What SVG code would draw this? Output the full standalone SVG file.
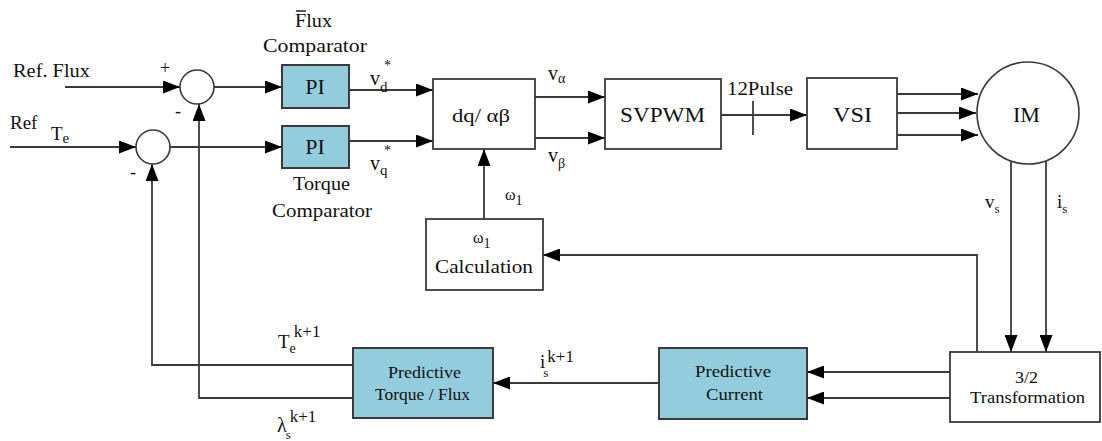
<svg xmlns="http://www.w3.org/2000/svg" width="1102" height="441" viewBox="0 0 1102 441" font-family="'Liberation Serif', 'DejaVu Serif', serif">
<style>
text{font-family:'Liberation Serif','DejaVu Serif',serif;fill:#111;}
.box{fill:#fff;stroke:#3a3a3a;stroke-width:1.8;}
.fbox{fill:#93cddd;stroke:#3a3a3a;stroke-width:2;}
.sum{fill:#fff;stroke:#3a3a3a;stroke-width:1.6;}
.ln{fill:none;stroke:#3a3a3a;stroke-width:1.8;}
.ar{marker-end:url(#ah);}
</style>
<defs>
<marker id="ah" markerUnits="userSpaceOnUse" markerWidth="17" markerHeight="13" refX="17" refY="6.5" orient="auto">
<path d="M0,0 L17,6.5 L0,13 z" fill="#000"/>
</marker>
</defs>

<g id="connectors">
<path class="ln ar" d="M65,87 H180"/>
<path class="ln ar" d="M214,87 H282"/>
<path class="ln ar" d="M10,147 H136"/>
<path class="ln ar" d="M170,147 H282"/>
<path class="ln ar" d="M349,90 H433"/>
<path class="ln ar" d="M349,141 H433"/>
<path class="ln ar" d="M535,97 H605"/>
<path class="ln ar" d="M535,138 H605"/>
<path class="ln ar" d="M721,115 H807"/>
<path class="ln" d="M753,101 V135"/>
<path class="ln ar" d="M897,94 H978"/>
<path class="ln ar" d="M897,113 H976"/>
<path class="ln ar" d="M897,135 H978"/>
<path class="ln ar" d="M1011,161 V352"/>
<path class="ln ar" d="M1046,161 V352"/>
<path class="ln ar" d="M977,352 V255 H543"/>
<path class="ln ar" d="M484,219 V149"/>
<path class="ln ar" d="M950,372 H807"/>
<path class="ln ar" d="M950,398 H807"/>
<path class="ln ar" d="M659,383 H493"/>
<path class="ln ar" d="M353,365 H152 V164"/>
<path class="ln ar" d="M353,398 H199 V104"/>
</g>

<g id="labels">
<text font-size="18" x="13" y="77" textLength="77" lengthAdjust="spacingAndGlyphs">Ref. Flux</text>
<text x="160" y="74" font-size="18">+</text>
<text x="175" y="117" font-size="18">-</text>
<text x="130" y="178" font-size="18">-</text>
<text x="10" y="129" font-size="19">Ref</text>
<text x="51" y="140" font-size="19">T<tspan font-size="15" dy="3">e</tspan></text>
<text x="370" y="85" font-size="20">v<tspan font-size="15" dy="7">d</tspan></text>
<text x="384" y="70" font-size="14">*</text>
<text x="370" y="170" font-size="20">v<tspan font-size="15" dy="5">q</tspan></text>
<text x="384" y="155" font-size="14">*</text>
<text x="548" y="80" font-size="20">v<tspan font-size="14" dy="3">α</tspan></text>
<text x="548" y="162" font-size="20">v<tspan font-size="14" dy="6">β</tspan></text>
<text x="727" y="95" font-size="19" textLength="66" lengthAdjust="spacingAndGlyphs">12Pulse</text>
<text x="505" y="200" font-size="16">ω<tspan font-size="14" dy="5">1</tspan></text>
<text x="985" y="208" font-size="19">v<tspan font-size="13" dy="5">s</tspan></text>
<text x="1057" y="208" font-size="19">i<tspan font-size="13" dy="5">s</tspan></text>
<text x="278" y="348" font-size="19" fill="#555">T<tspan font-size="14" dy="5">e</tspan><tspan font-size="17" dy="-16" dx="-2">k+1</tspan></text>
<text x="540" y="368" font-size="19">i<tspan font-size="13" dy="9" dx="-2">s</tspan><tspan font-size="17" dy="-15" dx="-1">k+1</tspan></text>
<text x="277" y="432" font-size="20">λ<tspan font-size="13" dy="7" dx="-1">s</tspan><tspan font-size="17" dy="-17" dx="-1">k+1</tspan></text>
</g>

<g id="flux-comparator-label">
<text x="295" y="27" font-size="18" textLength="37" lengthAdjust="spacingAndGlyphs">Flux</text>
<line x1="296" y1="11" x2="306" y2="11" stroke="#111" stroke-width="1.4"/>
<text x="263" y="52" font-size="18" textLength="104" lengthAdjust="spacingAndGlyphs">Comparator</text>
</g>

<g id="torque-comparator-label">
<text x="293" y="190" font-size="18" textLength="57" lengthAdjust="spacingAndGlyphs">Torque</text>
<text x="272" y="217" font-size="18" textLength="100" lengthAdjust="spacingAndGlyphs">Comparator</text>
</g>

<g id="sum-flux"><circle class="sum" cx="197" cy="87" r="17"/></g>
<g id="sum-torque"><circle class="sum" cx="153" cy="147" r="17"/></g>

<g id="pi-flux">
<rect class="fbox" x="282" y="65" width="67" height="43"/>
<text x="315" y="94" font-size="22" text-anchor="middle">PI</text>
</g>
<g id="pi-torque">
<rect class="fbox" x="282" y="126" width="67" height="42"/>
<text x="315" y="154" font-size="22" text-anchor="middle">PI</text>
</g>

<g id="dq-ab">
<rect class="box" x="433" y="79" width="102" height="70"/>
<text x="452" y="122" font-size="19" textLength="58" lengthAdjust="spacingAndGlyphs">dq/ αβ</text>
</g>

<g id="svpwm">
<rect class="box" x="605" y="79" width="116" height="70"/>
<text x="620" y="122" font-size="22" textLength="85" lengthAdjust="spacingAndGlyphs">SVPWM</text>
</g>

<g id="vsi">
<rect class="box" x="807" y="78" width="90" height="71"/>
<text x="833" y="122" font-size="22" textLength="39" lengthAdjust="spacingAndGlyphs">VSI</text>
</g>

<g id="im">
<circle class="sum" cx="1028" cy="113" r="51"/>
<text x="1013" y="122" font-size="22" textLength="27" lengthAdjust="spacingAndGlyphs">IM</text>
</g>

<g id="w1-calc">
<rect class="box" x="426" y="219" width="117" height="71"/>
<text x="473" y="243" font-size="16">ω<tspan font-size="14" dy="5">1</tspan></text>
<text x="435" y="273" font-size="18" textLength="98" lengthAdjust="spacingAndGlyphs">Calculation</text>
</g>

<g id="transform">
<rect class="box" x="950" y="352" width="150" height="70"/>
<text x="1015" y="383" font-size="17" textLength="23" lengthAdjust="spacingAndGlyphs">3/2</text>
<text x="970" y="403" font-size="17" textLength="115" lengthAdjust="spacingAndGlyphs">Transformation</text>
</g>

<g id="pred-current">
<rect class="fbox" x="659" y="348" width="148" height="71"/>
<text x="695" y="377" font-size="17" textLength="76" lengthAdjust="spacingAndGlyphs">Predictive</text>
<text x="706" y="400" font-size="17" textLength="57" lengthAdjust="spacingAndGlyphs">Current</text>
</g>

<g id="pred-torque-flux">
<rect class="fbox" x="353" y="348" width="140" height="70"/>
<text x="388" y="378" font-size="17" textLength="73" lengthAdjust="spacingAndGlyphs">Predictive</text>
<text x="375" y="400" font-size="17" textLength="95" lengthAdjust="spacingAndGlyphs">Torque / Flux</text>
</g>
</svg>
